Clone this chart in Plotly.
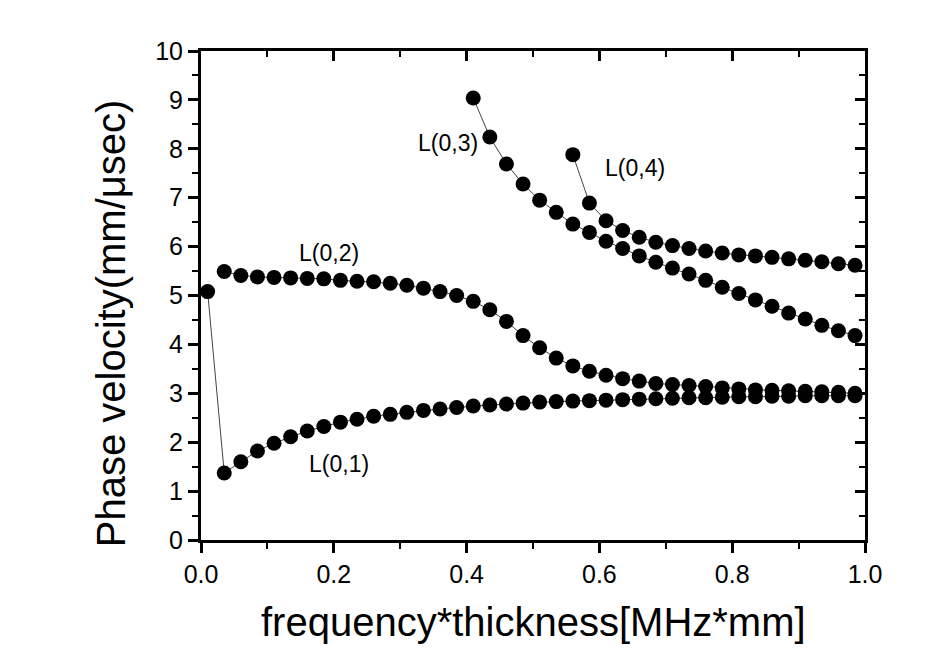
import plotly.graph_objects as go

# ---- data ----
x_l01 = [0.01, 0.035, 0.06, 0.085, 0.11, 0.135, 0.16, 0.185, 0.21, 0.235,
         0.26, 0.285, 0.31, 0.335, 0.36, 0.385, 0.41, 0.435, 0.46, 0.485,
         0.51, 0.535, 0.56, 0.585, 0.61, 0.635, 0.66, 0.685, 0.71, 0.735,
         0.76, 0.785, 0.81, 0.835, 0.86, 0.885, 0.91, 0.935, 0.96, 0.985]
y_l01 = [5.08, 1.37, 1.60, 1.82, 1.98, 2.11, 2.23, 2.32, 2.41, 2.47,
         2.53, 2.57, 2.61, 2.65, 2.68, 2.71, 2.74, 2.76, 2.78, 2.80,
         2.82, 2.83, 2.84, 2.85, 2.86, 2.87, 2.88, 2.89, 2.90, 2.91,
         2.91, 2.92, 2.93, 2.93, 2.94, 2.94, 2.95, 2.95, 2.95, 2.95]

x_l02 = [0.035, 0.06, 0.085, 0.11, 0.135, 0.16, 0.185, 0.21, 0.235,
         0.26, 0.285, 0.31, 0.335, 0.36, 0.385, 0.41, 0.435, 0.46, 0.485,
         0.51, 0.535, 0.56, 0.585, 0.61, 0.635, 0.66, 0.685, 0.71, 0.735,
         0.76, 0.785, 0.81, 0.835, 0.86, 0.885, 0.91, 0.935, 0.96, 0.985]
y_l02 = [5.49, 5.41, 5.38, 5.37, 5.36, 5.35, 5.34, 5.31, 5.29,
         5.28, 5.25, 5.21, 5.15, 5.08, 5.00, 4.88, 4.71, 4.47, 4.18,
         3.93, 3.72, 3.56, 3.45, 3.37, 3.30, 3.25, 3.20, 3.18, 3.16,
         3.14, 3.11, 3.09, 3.07, 3.06, 3.05, 3.04, 3.03, 3.02, 3.00]

x_l03 = [0.41, 0.435, 0.46, 0.485, 0.51, 0.535, 0.56, 0.585, 0.61, 0.635,
         0.66, 0.685, 0.71, 0.735, 0.76, 0.785, 0.81, 0.835, 0.86, 0.885,
         0.91, 0.935, 0.96, 0.985]
y_l03 = [9.04, 8.24, 7.69, 7.28, 6.95, 6.70, 6.46, 6.29, 6.11, 5.96,
         5.81, 5.68, 5.56, 5.44, 5.31, 5.17, 5.04, 4.91, 4.78, 4.64,
         4.52, 4.39, 4.28, 4.18]

x_l04 = [0.56, 0.585, 0.61, 0.635, 0.66, 0.685, 0.71, 0.735, 0.76, 0.785,
         0.81, 0.835, 0.86, 0.885, 0.91, 0.935, 0.96, 0.985]
y_l04 = [7.88, 6.89, 6.53, 6.33, 6.19, 6.09, 6.02, 5.96, 5.91, 5.87,
         5.83, 5.81, 5.78, 5.75, 5.72, 5.69, 5.65, 5.62]

mode_labels = ["L(0,1)", "L(0,2)", "L(0,3)", "L(0,4)"]
label_x = [0.208, 0.193, 0.372, 0.654]
label_y = [1.55, 5.87, 8.12, 7.61]

x_title = "frequency*thickness[MHz*mm]"
y_title = "Phase velocity(mm/μsec)"

FONT = "Liberation Sans, Arial, Helvetica, sans-serif"

fig = go.Figure()
for xs, ys, name in zip([x_l01, x_l02, x_l03, x_l04],
                        [y_l01, y_l02, y_l03, y_l04], mode_labels):
    fig.add_trace(go.Scatter(
        x=xs, y=ys, mode="lines+markers", name=name, showlegend=False,
        line=dict(color="#444444", width=1),
        marker=dict(color="black", size=15, symbol="circle"),
    ))

# empty trace to host the mirrored top/right axes
fig.add_trace(go.Scatter(x=[], y=[], xaxis="x2", yaxis="y2",
                         showlegend=False, hoverinfo="skip"))

for t, xx, yy in zip(mode_labels, label_x, label_y):
    fig.add_annotation(x=xx, y=yy, text=t, showarrow=False,
                       font=dict(family=FONT, size=23, color="black"))

fig.add_annotation(xref="paper", yref="paper", x=-0.135, y=0.444,
                   text=y_title, textangle=-90, showarrow=False,
                   xanchor="center", yanchor="middle",
                   font=dict(family=FONT, size=40, color="black"))
fig.add_annotation(xref="paper", yref="paper", x=0.5, y=-0.168,
                   text=x_title, showarrow=False,
                   xanchor="center", yanchor="middle",
                   font=dict(family=FONT, size=40, color="black"))

common = dict(showgrid=False, zeroline=False, showline=True,
              linecolor="black", linewidth=3, tickcolor="black")

fig.update_layout(
    width=949, height=654,
    margin=dict(l=193, r=92, t=43, b=122),
    paper_bgcolor="white", plot_bgcolor="white",
    font=dict(family=FONT, color="black"),
    xaxis=dict(range=[0, 1.0], tick0=0, dtick=0.2, tickformat=".1f",
               ticks="outside", ticklen=10, tickwidth=2.5,
               tickfont=dict(size=25),
               minor=dict(dtick=0.1, ticks="outside", ticklen=6,
                          tickwidth=2, tickcolor="black"),
               **common),
    yaxis=dict(range=[0, 10], tick0=0, dtick=1,
               ticks="outside", ticklen=10, tickwidth=2.5,
               tickfont=dict(size=25),
               minor=dict(dtick=0.5, ticks="outside", ticklen=6,
                          tickwidth=2, tickcolor="black"),
               **common),
    xaxis2=dict(overlaying="x", side="top", range=[0, 1.0], tick0=0,
                dtick=0.2, ticks="inside", ticklen=10, tickwidth=2.5,
                showticklabels=False,
                minor=dict(dtick=0.1, ticks="inside", ticklen=6,
                           tickwidth=2, tickcolor="black"),
                **common),
    yaxis2=dict(overlaying="y", side="right", range=[0, 10], tick0=0,
                dtick=1, ticks="inside", ticklen=10, tickwidth=2.5,
                showticklabels=False,
                minor=dict(dtick=0.5, ticks="inside", ticklen=6,
                           tickwidth=2, tickcolor="black"),
                **common),
)

fig.write_html("out.html")
